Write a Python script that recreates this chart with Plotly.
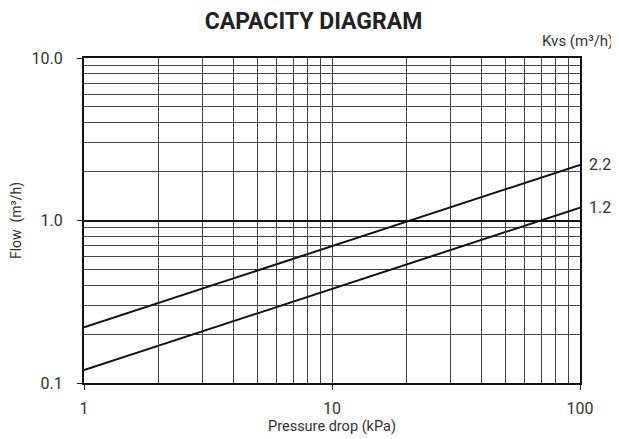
import math
import plotly.graph_objects as go

# Data
pressure_drop = [1, 100]                 # kPa
flow_kvs_22 = [0.22, 2.2]                # m3/h
flow_kvs_12 = [0.12, 1.2]                # m3/h
series_labels = ["2.2", "1.2"]
x_tickvals = [1, 10, 100]
x_ticktext = ["1", "10", "100"]
y_tickvals = [0.1, 1, 10]
y_ticktext = ["0.1", "1.0", "10.0"]

FONT = "Roboto, 'Liberation Sans', sans-serif"
GRID = "#444444"

fig = go.Figure()
for ys in (flow_kvs_22, flow_kvs_12):
    fig.add_trace(go.Scatter(x=pressure_drop, y=ys, mode="lines",
                             line=dict(color="#111111", width=2),
                             showlegend=False, hoverinfo="skip"))

for lab, ys in zip(series_labels, (flow_kvs_22, flow_kvs_12)):
    fig.add_annotation(x=math.log10(pressure_drop[-1]), y=math.log10(ys[-1]), xref="x", yref="y",
                       text=lab, showarrow=False, xanchor="left", xshift=7,
                       font=dict(family=FONT, size=16, color="#333333"))

fig.add_annotation(x=1.0, y=1.0, xref="paper", yref="paper", text="Kvs (m³/h)",
                   showarrow=False, xanchor="right", yanchor="bottom", yshift=6, xshift=35,
                   font=dict(family=FONT, size=15, color="#333333"))

fig.update_layout(
    width=611, height=431,
    margin=dict(l=76, r=39, t=50, b=56),
    paper_bgcolor="white", plot_bgcolor="white",
    title=dict(text="<b>CAPACITY DIAGRAM</b>", x=0.5, xanchor="center", y=0.97, yanchor="middle",
               font=dict(family=FONT, size=23, color="#222222")),
    font=dict(family=FONT, color="#333333"),
)

fig.update_xaxes(type="log", range=[0, 2], tickvals=x_tickvals, ticktext=x_ticktext,
                 ticks="outside", ticklen=5, tickcolor="#222", tickwidth=1, ticklabelstandoff=5,
                 showgrid=True, gridcolor=GRID, gridwidth=1, automargin=False,
                 minor=dict(dtick="D1", showgrid=True, gridcolor=GRID, gridwidth=1, ticks=""),
                 showline=True, linecolor="#111", linewidth=2, mirror=True,
                 tickfont=dict(size=16, color="#333"),
                 title=dict(text="Pressure drop (kPa)", font=dict(size=14.5, color="#333"), standoff=1),
                 zeroline=False)
fig.update_yaxes(type="log", range=[-1, 1], tickvals=y_tickvals, ticktext=y_ticktext,
                 ticks="outside", ticklen=5, tickcolor="#222", tickwidth=1, ticklabelstandoff=11,
                 showgrid=True, gridcolor="#111", gridwidth=1.5, automargin=False,
                 minor=dict(dtick="D1", showgrid=True, gridcolor=GRID, gridwidth=1, ticks=""),
                 showline=True, linecolor="#111", linewidth=2, mirror=True,
                 tickfont=dict(size=16, color="#333"),
                 title=dict(text="Flow  (m³/h)", font=dict(size=14, color="#333"), standoff=8),
                 zeroline=False)

fig.write_html("out.html")
